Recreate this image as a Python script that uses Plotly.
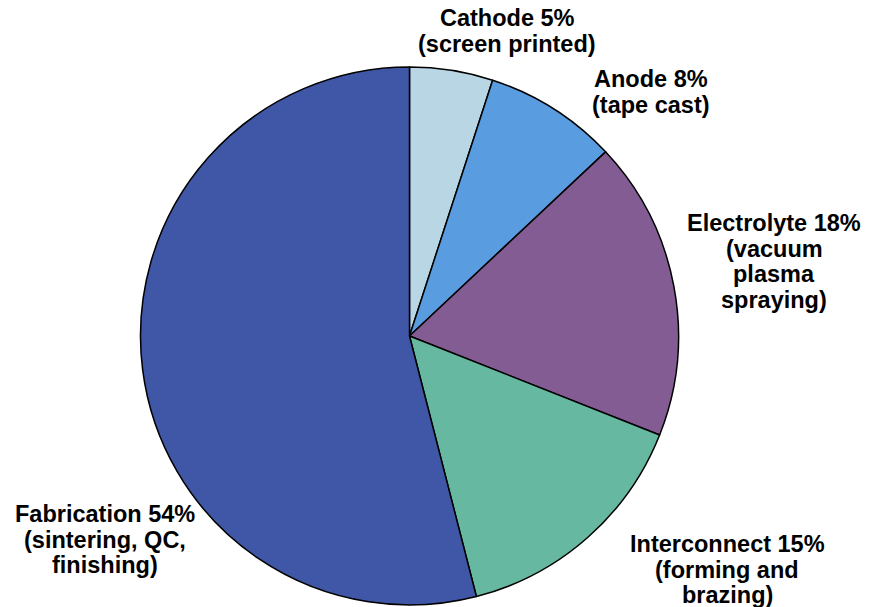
import plotly.graph_objects as go

categories = ["Cathode", "Anode", "Electrolyte", "Interconnect", "Fabrication"]
values = [5, 8, 18, 15, 54]
processes = ["(screen printed)", "(tape cast)", "(vacuum<br>plasma<br>spraying)",
             "(forming and<br>brazing)", "(sintering, QC,<br>finishing)"]
colors = ["#B9D6E4", "#5A9CE0", "#825C92", "#66B9A0", "#3F57A6"]

W, H = 876, 607
cx, cy, r = 409.5, 336, 269

# label anchor (pixel centre of first line) and line spacing
label_pos = [(507, 18), (651, 79), (774, 223), (727, 544), (105, 514)]
line_gap = 25.5

fig = go.Figure(go.Pie(
    labels=categories, values=values, sort=False, direction="clockwise",
    rotation=0, textinfo="none", hoverinfo="label+percent",
    marker=dict(colors=colors, line=dict(color="black", width=1.5)),
    domain=dict(x=[(cx - r) / W, (cx + r) / W], y=[(H - cy - r) / H, (H - cy + r) / H]),
    showlegend=False,
))

annotations = []
for cat, val, proc, (px, py) in zip(categories, values, processes, label_pos):
    lines = [f"{cat} {val}%"] + proc.split("<br>")
    for i, line in enumerate(lines):
        annotations.append(dict(
            x=px / W, y=1 - (py + i * line_gap) / H, xref="paper", yref="paper",
            text=f"<b>{line}</b>", showarrow=False, xanchor="center", yanchor="middle",
            font=dict(family="Liberation Sans, Arial", size=23.5, color="black"),
        ))

fig.update_layout(
    width=W, height=H, margin=dict(l=0, r=0, t=0, b=0),
    paper_bgcolor="white", plot_bgcolor="white", annotations=annotations,
)
fig.write_html("out.html")
